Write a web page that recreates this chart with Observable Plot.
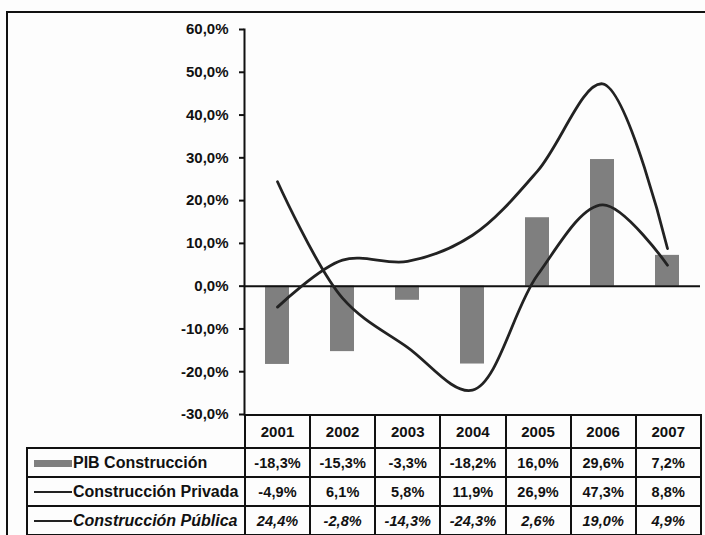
<!DOCTYPE html>
<html>
<head>
<meta charset="utf-8">
<script src="https://cdn.jsdelivr.net/npm/d3@7"></script>
<script src="https://cdn.jsdelivr.net/npm/@observablehq/plot@0.6"></script>
<style>
  html, body { margin: 0; padding: 0; background: #fff; }
  #wrap { position: relative; width: 705px; height: 535px; overflow: hidden; background: #fdfdfd;
          font-family: "Liberation Sans", Arial, sans-serif; font-weight: bold; color: #111; }
  #border { position: absolute; left: 6px; top: 11px; width: 720px; height: 540px;
            border-left: 2px solid #111; border-top: 2px solid #111; }
  #chart { position: absolute; left: 0; top: 0; z-index: 2; }
  #chart svg { overflow: visible; }
  table { position: absolute; left: 26px; top: 414px; border-collapse: collapse; table-layout: fixed; z-index: 1; }
  td { border: 2px solid #111; padding: 0; text-align: center; font-size: 14.5px; white-space: nowrap; overflow: hidden; letter-spacing: 0.1px; }
  tr.head td { height: 31px; font-size: 15px; }
  tr.row td { height: 27px; }
  td.blank { border-top: none; border-left: none; }
  td.lab { text-align: left; font-size: 16px; padding-left: 6px; letter-spacing: 0; }
  tr.ital td { font-style: italic; }
  .sw { display: inline-block; width: 38px; vertical-align: middle; margin-right: 1px; }
</style>
</head>
<body>
<div id="wrap">
  <div id="border"></div>
  <div id="chart"></div>
</div>
<script>
const years = ["2001", "2002", "2003", "2004", "2005", "2006", "2007"];
const pibConstruccion = [-18.3, -15.3, -3.3, -18.2, 16.0, 29.6, 7.2];
const construccionPrivada = [-4.9, 6.1, 5.8, 11.9, 26.9, 47.3, 8.8];
const construccionPublica = [24.4, -2.8, -14.3, -24.3, 2.6, 19.0, 4.9];
const seriesNames = ["PIB Construcción", "Construcción Privada", "Construcción Pública"];
const yTicks = [-30, -20, -10, 0, 10, 20, 30, 40, 50, 60];

const fmt = d => d.toFixed(1).replace(".", ",") + "%";
const rows = years.map((year, i) => ({
  year,
  pib: pibConstruccion[i],
  privada: construccionPrivada[i],
  publica: construccionPublica[i]
}));

const chart = Plot.plot({
  width: 705,
  height: 420,
  marginLeft: 244,
  marginRight: 5,
  marginTop: 29,
  marginBottom: 6,
  style: {
    fontFamily: "'Liberation Sans', Arial, sans-serif",
    fontWeight: "bold",
    fontSize: "15px",
    color: "#111",
    background: "transparent",
    overflow: "visible"
  },
  x: { type: "band", domain: years, paddingInner: 0.63, paddingOuter: 0.315, axis: null },
  y: { domain: [-30, 60], label: null, axis: null },
  marks: [
    Plot.barY(rows, { x: "year", y: "pib", fill: "#7f7f7f" }),
    Plot.ruleY([0], { stroke: "#111", strokeWidth: 2 }),
    Plot.axisY(yTicks, { tickFormat: fmt, tickSize: 5, tickPadding: 11, strokeWidth: 2, label: null }),
    Plot.frame({ anchor: "left", strokeWidth: 2, stroke: "#111" }),
    Plot.lineY(rows, { x: "year", y: "privada", curve: "catmull-rom", stroke: "#222", strokeWidth: 2.8 }),
    Plot.lineY(rows, { x: "year", y: "publica", curve: "catmull-rom", stroke: "#222", strokeWidth: 2.8 })
  ]
});
document.getElementById("chart").appendChild(chart);

// data table below the chart
const table = document.createElement("table");
const colgroup = document.createElement("colgroup");
const c0 = document.createElement("col"); c0.style.width = "218px"; colgroup.appendChild(c0);
years.forEach(() => { const c = document.createElement("col"); c.style.width = "65.14px"; colgroup.appendChild(c); });
table.appendChild(colgroup);

const head = document.createElement("tr"); head.className = "head";
const blank = document.createElement("td"); blank.className = "blank"; head.appendChild(blank);
years.forEach(y => { const td = document.createElement("td"); td.textContent = y; head.appendChild(td); });
table.appendChild(head);

const seriesValues = [pibConstruccion, construccionPrivada, construccionPublica];
seriesValues.forEach((vals, s) => {
  const tr = document.createElement("tr"); tr.className = "row" + (s === 2 ? " ital" : "");
  const lab = document.createElement("td"); lab.className = "lab";
  const sw = document.createElement("span"); sw.className = "sw";
  if (s === 0) { sw.style.height = "7px"; sw.style.background = "#7f7f7f"; }
  else { sw.style.height = "2px"; sw.style.background = "#222"; }
  lab.appendChild(sw);
  const t = document.createElement("span"); t.textContent = seriesNames[s];
  if (s === 2) t.style.fontStyle = "italic";
  lab.appendChild(t);
  tr.appendChild(lab);
  vals.forEach(v => { const td = document.createElement("td"); td.textContent = fmt(v); tr.appendChild(td); });
  table.appendChild(tr);
});
document.getElementById("wrap").appendChild(table);
</script>
</body>
</html>
